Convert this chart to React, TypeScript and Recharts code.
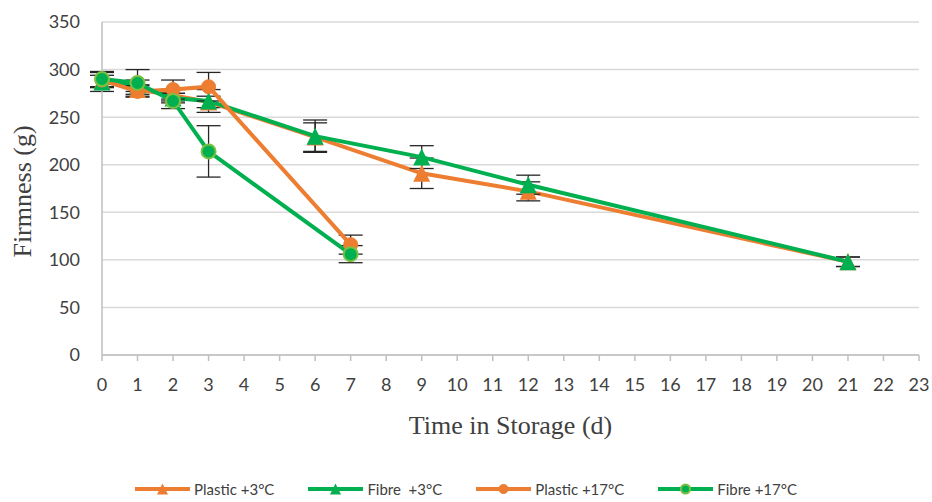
import { LineChart, Line, XAxis, YAxis, CartesianGrid, ErrorBar, Label } from "recharts";

// days sampled per treatment
const daysLong = [0, 1, 2, 3, 6, 9, 12, 21];
const daysShort = [0, 1, 2, 3, 7];

// firmness (g) and std error
const plastic3 = [288, 279, 273, 266, 229, 191, 172, 98];
const plastic3Err = [6, 5, 6, 6, 15, 16, 10, 5];
const fibre3 = [287, 283, 270, 267, 230, 208, 179, 98];
const fibre3Err = [10, 6, 5, 12, 17, 12, 10, 5];
const plastic17 = [289, 277, 279, 282, 116];
const plastic17Err = [8, 6, 10, 15, 10];
const fibre17 = [290, 286, 267, 214, 106];
const fibre17Err = [8, 14, 8, 27, 9];

const xTicks = Array.from({ length: 24 }, (_, i) => i);
const yTicks = [0, 50, 100, 150, 200, 250, 300, 350];

const ORANGE = "#ED7D31";
const GREEN = "#00B050";
const LIGHT_GREEN = "#7AC143";

const toRows = (days: number[], vals: number[], errs: number[]) =>
  days.map((d, i) => ({ day: d, value: vals[i], err: errs[i] }));

type Marker = "triangle" | "circle";

const series = [
  { name: "Plastic +3°C", color: ORANGE, marker: "triangle" as Marker, border: ORANGE, data: toRows(daysLong, plastic3, plastic3Err) },
  { name: "Fibre  +3°C", color: GREEN, marker: "triangle" as Marker, border: GREEN, data: toRows(daysLong, fibre3, fibre3Err) },
  { name: "Plastic +17°C", color: ORANGE, marker: "circle" as Marker, border: ORANGE, data: toRows(daysShort, plastic17, plastic17Err) },
  { name: "Fibre +17°C", color: GREEN, marker: "circle" as Marker, border: LIGHT_GREEN, data: toRows(daysShort, fibre17, fibre17Err) },
];

const markerShape = (marker: Marker, color: string, border: string, cx: number, cy: number, key?: string, scale = 1) => {
  if (marker === "triangle") {
    const h = 8.5 * scale;
    return (
      <path
        key={key}
        d={`M${cx},${cy - h} L${cx + h},${cy + h} L${cx - h},${cy + h} Z`}
        fill={color}
      />
    );
  }
  return <circle key={key} cx={cx} cy={cy} r={7 * scale} fill={color} stroke={border} strokeWidth={border === color ? 1 : 2} />;
};

const YTitle = ({ viewBox }: any) => {
  const cx = viewBox.x + 20;
  const cy = viewBox.y + viewBox.height / 2 + 3;
  return (
    <text
      x={cx}
      y={cy}
      transform={`rotate(-90 ${cx} ${cy})`}
      textAnchor="middle"
      dominantBaseline="central"
      fontFamily="'Liberation Serif', 'DejaVu Serif', serif"
      fontSize={26}
      fill="#404040"
    >
      Firmness (g)
    </text>
  );
};

const XTitle = ({ viewBox }: any) => {
  const cx = viewBox.x + viewBox.width / 2;
  const cy = viewBox.y + 70;
  return (
    <text
      x={cx}
      y={cy}
      textAnchor="middle"
      dominantBaseline="central"
      fontFamily="'Liberation Serif', 'DejaVu Serif', serif"
      fontSize={26}
      fill="#404040"
    >
      Time in Storage (d)
    </text>
  );
};

const LegendRow = () => (
  <div
    style={{
      position: "absolute",
      left: 0,
      top: 479,
      width: 932,
      display: "flex",
      justifyContent: "center",
      gap: 34,
      boxSizing: "border-box",
      fontFamily: "Lato, sans-serif",
      fontSize: 15,
      color: "#404040",
    }}
  >
    {series.map((s) => (
      <div key={s.name} style={{ display: "flex", alignItems: "center", gap: 4 }}>
        <svg width={55} height={20}>
          <line x1={0} y1={10} x2={55} y2={10} stroke={s.color} strokeWidth={4} />
          {markerShape(s.marker, s.color, s.border, 27.5, 10, undefined, 0.65)}
        </svg>
        <span style={{ whiteSpace: "pre" }}>{s.name}</span>
      </div>
    ))}
  </div>
);

export default function App() {
  return (
    <div style={{ position: "absolute", left: 0, top: 0, width: 932, height: 502, background: "#fff" }}>
      <LineChart width={932} height={502} margin={{ top: 22, right: 13, bottom: 117, left: 2 }}>
        <CartesianGrid vertical={false} stroke="#d9d9d9" strokeWidth={1.5} />
        <XAxis
          dataKey="day"
          type="number"
          domain={[0, 23]}
          ticks={xTicks}
          interval={0}
          allowDuplicatedCategory={false}
          height={30}
          stroke="#bfbfbf"
          strokeWidth={1.5}
          tickSize={6}
          tickMargin={17}
          tick={{ fill: "#404040", fontSize: 18, fontFamily: "Lato, sans-serif" }}
        >
          <Label content={<XTitle />} />
        </XAxis>
        <YAxis
          type="number"
          domain={[0, 350]}
          ticks={yTicks}
          width={100}
          stroke="#bfbfbf"
          strokeWidth={1.5}
          tickLine={false}
          tickSize={6}
          tickMargin={16}
          tick={{ fill: "#404040", fontSize: 18, fontFamily: "Lato, sans-serif" }}
        >
          <Label content={<YTitle />} />
        </YAxis>
        {series.map((s) => (
          <Line
            key={s.name}
            name={s.name}
            data={s.data}
            dataKey="value"
            type="linear"
            stroke={s.color}
            strokeWidth={4}
            isAnimationActive={false}
            activeDot={false}
            dot={(p: any) => markerShape(s.marker, s.color, s.border, p.cx, p.cy, `${s.name}-${p.index}`)}
          >
            <ErrorBar dataKey="err" direction="y" width={12} stroke="#262626" strokeWidth={1.3} />
          </Line>
        ))}
      </LineChart>
      <LegendRow />
    </div>
  );
}
